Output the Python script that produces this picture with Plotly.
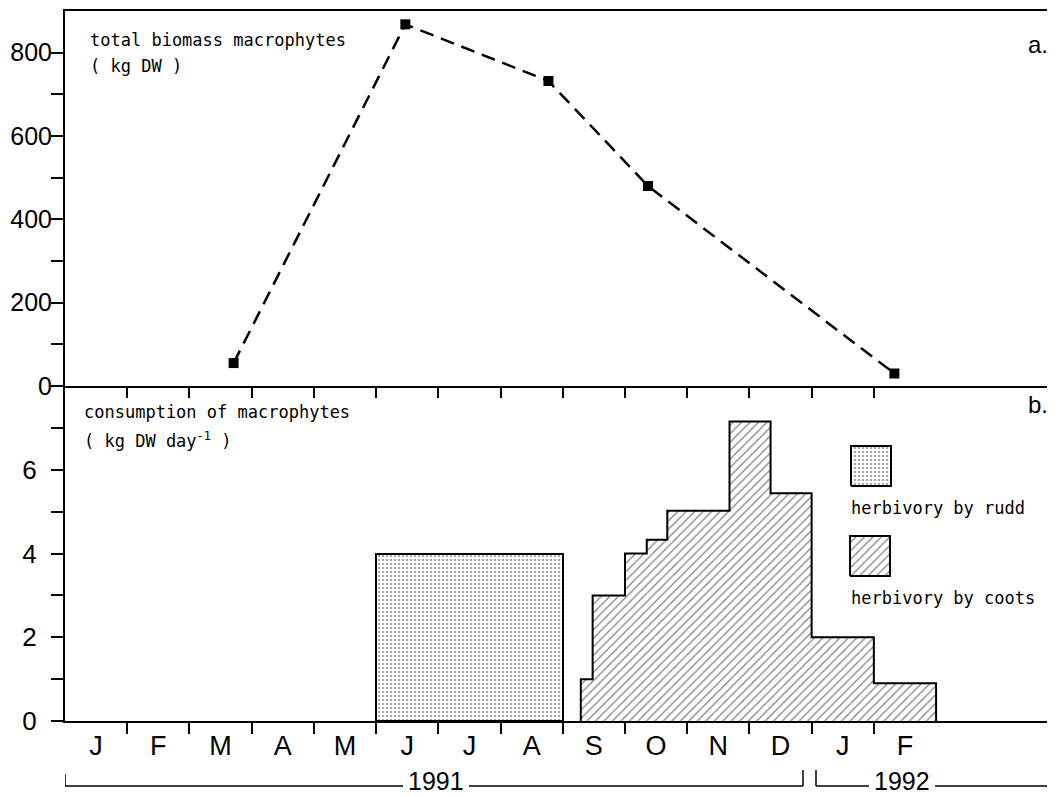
import plotly.graph_objects as go

# ---- data (months counted from 1 Jan 1991; 0 = start of January 1991) ----
month_labels = ["J", "F", "M", "A", "M", "J", "J", "A", "S", "O", "N", "D", "J", "F"]

biomass_month = [2.71, 5.47, 7.77, 9.37, 13.33]
biomass_kg = [55, 868, 732, 480, 30]

rudd_start = [5.0]
rudd_end = [8.0]
rudd_rate = [4.0]

coot_edges = [8.29, 8.48, 9.0, 9.35, 9.68, 10.68, 11.34, 12.0, 13.0, 14.0]
coot_rate = [1.0, 3.0, 4.0, 4.33, 5.02, 7.15, 5.44, 2.0, 0.9]

biomass_ticks = [0, 200, 400, 600, 800]
biomass_minor = [100, 300, 500, 700]
cons_ticks = [0, 2, 4, 6]
cons_minor = [1, 3, 5, 7]

# ---- layout geometry (page has an 8px body margin) ----
OFF = 8
W, H = 1055 - OFF, 796 - OFF
X0, Y0, YT = 65, 721, 11          # plot left / bottom / top in screen px
ML, MT = X0 - OFF, YT - OFF
MR, MB = 0, H - (Y0 - OFF)
PW = W - ML - MR
PH = H - MT - MB
SPLIT = 335 / PH
MONTH_PX = 62.22
XMAX = PW / MONTH_PX

TICK_FONT = "Liberation Sans, Arial, sans-serif"
TEXT_FONT = "DejaVu Sans Mono, Liberation Mono, monospace"


def py(p):
    return (Y0 - p) / PH


def px(p):
    return (p - X0) / PW


def mx(p):
    return (p - X0) / MONTH_PX


fig = go.Figure()

# top panel: total biomass
fig.add_trace(go.Scatter(
    x=biomass_month, y=biomass_kg, mode="lines+markers",
    line=dict(color="black", width=2.5, dash="14px,8px"),
    marker=dict(symbol="square", size=10, color="black"),
    xaxis="x", yaxis="y", showlegend=False, hoverinfo="skip"))

# bottom panel: rudd (stippled bar)
fig.add_trace(go.Bar(
    x=[(s + e) / 2 for s, e in zip(rudd_start, rudd_end)],
    y=rudd_rate,
    width=[e - s for s, e in zip(rudd_start, rudd_end)],
    marker=dict(color="white", line=dict(color="black", width=2),
                pattern=dict(shape=".", fgcolor="#555", bgcolor="white", size=4, solidity=0.3)),
    xaxis="x2", yaxis="y2", showlegend=False, hoverinfo="skip"))

# bottom panel: coots (hatched step area)
cx = [coot_edges[0]] + coot_edges[:-1] + [coot_edges[-1], coot_edges[-1]]
cy = [0] + coot_rate + [coot_rate[-1], 0]
fig.add_trace(go.Scatter(
    x=cx, y=cy, mode="lines", line=dict(color="black", width=2, shape="hv"),
    fill="tozeroy", fillcolor="white",
    fillpattern=dict(shape="/", fgcolor="black", bgcolor="white", size=6, solidity=0.2),
    xaxis="x2", yaxis="y2", showlegend=False, hoverinfo="skip"))

# legend swatches on an overlaid unit axis of the bottom panel
def box(x0, x1, y0, y1):
    fx0, fx1 = px(x0), px(x1)
    fy0, fy1 = (Y0 - y1) / 335, (Y0 - y0) / 335
    return [fx0, fx1, fx1, fx0, fx0], [fy0, fy0, fy1, fy1, fy0]

bx, by = box(851, 891, 446, 486)
fig.add_trace(go.Scatter(
    x=bx, y=by, mode="lines", fill="toself", fillcolor="white",
    line=dict(color="black", width=2),
    fillpattern=dict(shape=".", fgcolor="#555", bgcolor="white", size=4, solidity=0.3),
    xaxis="x3", yaxis="y3", showlegend=False, hoverinfo="skip"))
bx, by = box(850, 890, 536, 576)
fig.add_trace(go.Scatter(
    x=bx, y=by, mode="lines", fill="toself", fillcolor="white",
    line=dict(color="black", width=2),
    fillpattern=dict(shape="/", fgcolor="black", bgcolor="white", size=6, solidity=0.2),
    xaxis="x3", yaxis="y3", showlegend=False, hoverinfo="skip"))

axis_common = dict(showgrid=False, zeroline=False, showline=True, linecolor="black",
                   linewidth=2, tickcolor="black", tickwidth=1.5, automargin=False)

fig.update_layout(
    width=W, height=H,
    margin=dict(l=ML, r=MR, t=MT, b=MB, pad=0, autoexpand=False),
    paper_bgcolor="white", plot_bgcolor="rgba(0,0,0,0)",
    font=dict(family=TICK_FONT, color="black"),
    showlegend=False, bargap=0,
    xaxis=dict(**axis_common, domain=[0, 1], anchor="y", range=[0, XMAX],
               mirror=True, tickmode="array", tickvals=list(range(1, 14)),
               ticks="outside", ticklen=10, showticklabels=False),
    yaxis=dict(**axis_common, domain=[SPLIT, 1], anchor="x", range=[0, 900],
               tickmode="array", tickvals=biomass_ticks,
               ticktext=[str(v) for v in biomass_ticks],
               ticks="outside", ticklen=12, ticklabelstandoff=-6,
               tickfont=dict(size=25, family=TICK_FONT),
               minor=dict(tickmode="array", tickvals=biomass_minor, ticks="outside",
                          ticklen=12, tickwidth=1.5, tickcolor="black")),
    xaxis2=dict(**axis_common, domain=[0, 1], anchor="y2", range=[0, XMAX],
                tickmode="array", tickvals=[i + 0.5 for i in range(len(month_labels))],
                ticktext=month_labels, ticks="outside", ticklen=0, ticklabelstandoff=0,
                tickfont=dict(size=27, family=TICK_FONT),
                minor=dict(tickmode="array", tickvals=list(range(1, 14)), ticks="outside",
                           ticklen=11, tickwidth=1.5, tickcolor="black")),
    yaxis2=dict(**axis_common, domain=[0, SPLIT], anchor="x2", range=[0, 8],
                tickmode="array", tickvals=cons_ticks,
                ticktext=[str(v) for v in cons_ticks],
                ticks="outside", ticklen=12, ticklabelstandoff=9,
                tickfont=dict(size=26, family=TICK_FONT),
                minor=dict(tickmode="array", tickvals=cons_minor, ticks="outside",
                           ticklen=12, tickwidth=1.5, tickcolor="black")),
    xaxis3=dict(overlaying="x2", range=[0, 1], visible=False),
    yaxis3=dict(overlaying="y2", range=[0, 1], visible=False),
)

def ann(text, x, y, size, family=TEXT_FONT, xanchor="left", yanchor="middle", xref="paper"):
    fig.add_annotation(text=text, x=x, y=y, xref=xref, yref="paper", showarrow=False,
                       xanchor=xanchor, yanchor=yanchor,
                       font=dict(size=size, family=family, color="black"))

ann("total biomass macrophytes", px(88), py(40), 17)
ann("( kg DW )", px(88), py(66), 17)
ann("consumption of macrophytes", px(82), py(412), 17)
ann("( kg DW day<sup>-1</sup> )", px(82), py(440), 17)
ann("herbivory by rudd", px(849), py(508), 17)
ann("herbivory by coots", px(849), py(598), 17)
ann("a.", px(1050), py(44), 24, family=TICK_FONT, xanchor="right")
ann("b.", px(1050), py(405), 24, family=TICK_FONT, xanchor="right")

# year brackets below the month axis
ann("1991", mx(436), py(781), 25, family=TICK_FONT, xanchor="center", xref="x2")
ann("1992", mx(902), py(781), 25, family=TICK_FONT, xanchor="center", xref="x2")

def seg(x0, y0, x1, y1):
    fig.add_shape(type="line", xref="x2", yref="paper", x0=x0, x1=x1, y0=y0, y1=y1,
                  line=dict(color="black", width=1.5))

yb = py(786)
seg(0, py(774), 0, yb)
seg(0, yb, mx(403), yb)
seg(mx(469), yb, mx(803), yb)
seg(mx(803), py(770), mx(803), yb)
seg(mx(816), py(770), mx(816), yb)
seg(mx(816), yb, mx(869), yb)
seg(mx(935), yb, mx(1052), yb)

fig.write_html("out.html")
